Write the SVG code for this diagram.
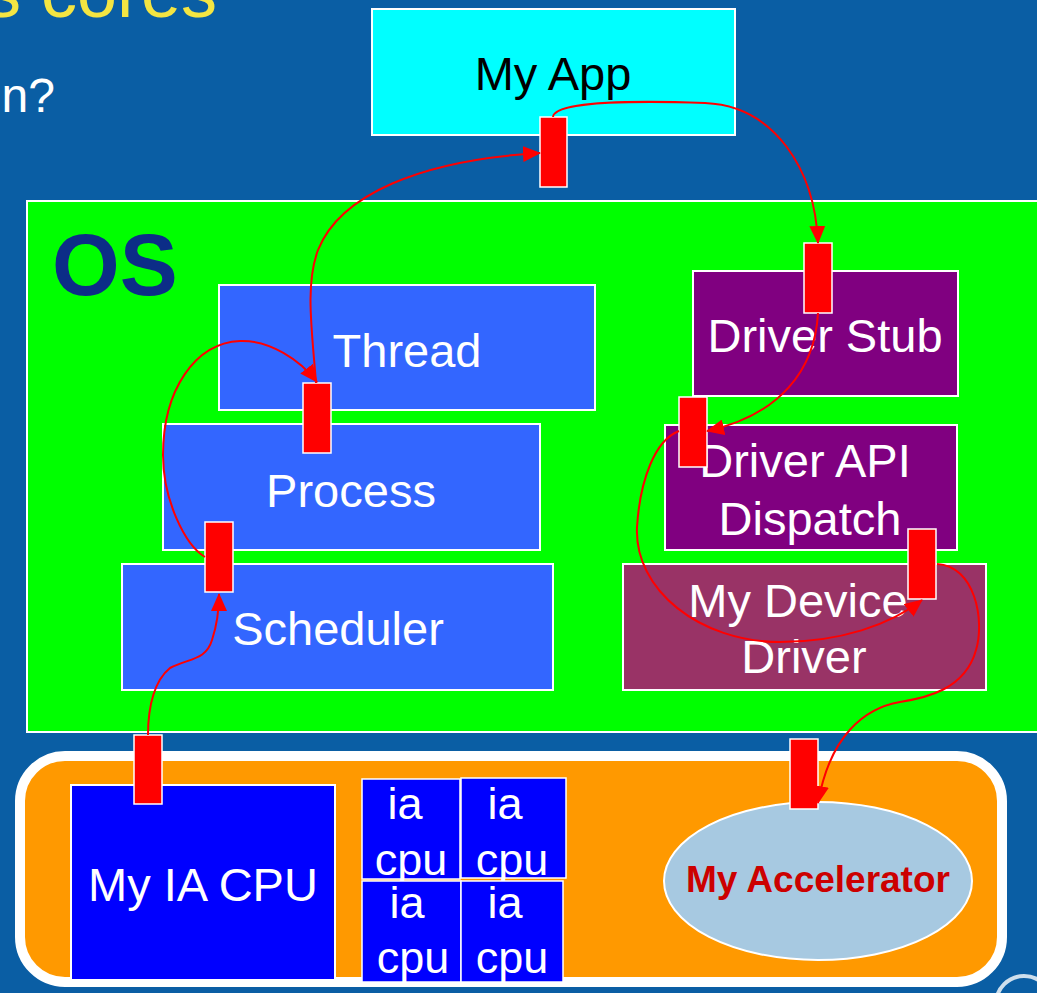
<svg xmlns="http://www.w3.org/2000/svg" width="1037" height="993" viewBox="0 0 1037 993">
  <defs>
    <marker id="arrow" markerUnits="userSpaceOnUse" markerWidth="18" markerHeight="16" viewBox="0 0 18 16" refX="17" refY="8" orient="auto">
      <path d="M0,0 L18,8 L0,16 z" fill="#ff0000"/>
    </marker>
  </defs>
  <style>
    text { font-family: "Liberation Sans", Arial, sans-serif; }
    .box { stroke: #ffffff; stroke-width: 2; }
    .lbl { fill: #ffffff; font-size: 47px; text-anchor: middle; }
    .port { fill: #ff0000; stroke: #ffffff; stroke-width: 1.5; }
    .cpu { fill: #0000ff; stroke: #ffffff; stroke-width: 1.5; }
    .cpu-lbl { fill: #ffffff; font-size: 45px; text-anchor: middle; }
    .link { fill: none; stroke: #ff0000; stroke-width: 2; marker-end: url(#arrow); }
    .link-plain { fill: none; stroke: #ff0000; stroke-width: 2; }
  </style>

  <!-- slide background -->
  <rect x="0" y="0" width="1037" height="993" fill="#0a5ea4"/>
  <text x="217" y="17" font-size="72" fill="#f4e542" text-anchor="end">s cores</text>
  <text x="55" y="112" font-size="48" fill="#ffffff" text-anchor="end">n?</text>
  <circle cx="1024" cy="1004" r="28" fill="none" stroke="#ffffff" stroke-width="4" opacity="0.8"/>

  <!-- application -->
  <g id="my-app">
    <rect class="box" x="372" y="9" width="363" height="126" fill="#00ffff"/>
    <text x="553" y="90" font-size="47" fill="#000000" text-anchor="middle">My App</text>
  </g>

  <!-- operating system layer -->
  <g id="os">
    <rect class="box" x="27" y="201" width="1025" height="531" fill="#00ff00"/>
    <text x="52" y="295" font-size="87" font-weight="bold" fill="#0c2d87">OS</text>
  </g>

  <g id="thread">
    <rect class="box" x="219" y="285" width="376" height="125" fill="#3366ff"/>
    <text class="lbl" x="407" y="367">Thread</text>
  </g>
  <g id="process">
    <rect class="box" x="163" y="424" width="377" height="126" fill="#3366ff"/>
    <text class="lbl" x="351" y="507">Process</text>
  </g>
  <g id="scheduler">
    <rect class="box" x="122" y="564" width="431" height="126" fill="#3366ff"/>
    <text class="lbl" x="338" y="645">Scheduler</text>
  </g>

  <g id="driver-stub">
    <rect class="box" x="693" y="271" width="265" height="125" fill="#800080"/>
    <text class="lbl" x="825" y="352">Driver Stub</text>
  </g>
  <g id="driver-api-dispatch">
    <rect class="box" x="665" y="425" width="292" height="125" fill="#800080"/>
    <text class="lbl" x="805" y="477">Driver API</text>
    <text class="lbl" x="810" y="535">Dispatch</text>
  </g>
  <g id="device-driver">
    <rect class="box" x="623" y="564" width="363" height="126" fill="#993366"/>
    <text class="lbl" x="798" y="617">My Device</text>
    <text class="lbl" x="804" y="673">Driver</text>
  </g>

  <!-- hardware layer -->
  <g id="hardware">
    <rect x="20" y="756" width="982" height="226" rx="45" ry="45" fill="#ff9900" stroke="#ffffff" stroke-width="10"/>
  </g>
  <g id="ia-cpu">
    <rect class="box" x="71" y="785" width="264" height="195" fill="#0000ff"/>
    <text class="lbl" x="203" y="901">My IA CPU</text>
  </g>
  <g id="core-1">
    <rect class="cpu" x="362" y="779" width="98" height="100"/>
    <text class="cpu-lbl" x="405" y="819">ia</text>
    <text class="cpu-lbl" x="411" y="875">cpu</text>
  </g>
  <g id="core-2">
    <rect class="cpu" x="461" y="778" width="105" height="100"/>
    <text class="cpu-lbl" x="505" y="819">ia</text>
    <text class="cpu-lbl" x="512" y="875">cpu</text>
  </g>
  <g id="core-3">
    <rect class="cpu" x="362" y="881" width="99" height="101"/>
    <text class="cpu-lbl" x="407" y="918">ia</text>
    <text class="cpu-lbl" x="413" y="973">cpu</text>
  </g>
  <g id="core-4">
    <rect class="cpu" x="461" y="881" width="102" height="101"/>
    <text class="cpu-lbl" x="505" y="918">ia</text>
    <text class="cpu-lbl" x="512" y="973">cpu</text>
  </g>
  <g id="accelerator">
    <ellipse cx="818" cy="881" rx="154" ry="79" fill="#a7c9e1" stroke="#ffffff" stroke-width="2"/>
    <text x="818" y="892" font-size="37" font-weight="bold" fill="#cc0000" text-anchor="middle">My Accelerator</text>
  </g>

  <!-- interface ports -->
  <g id="ports">
    <rect class="port" x="540" y="117" width="27" height="70"/>
    <rect class="port" x="804" y="243" width="28" height="70"/>
    <rect class="port" x="679" y="397" width="28" height="70"/>
    <rect class="port" x="908" y="529" width="28" height="70"/>
    <rect class="port" x="303" y="383" width="28" height="70"/>
    <rect class="port" x="205" y="522" width="28" height="70"/>
    <rect class="port" x="134" y="735" width="28" height="69"/>
    <rect class="port" x="790" y="739" width="28" height="70"/>
  </g>

  <!-- call path -->
  <g id="connectors">
    <path class="link" d="M148,735 C148,705 155,680 170,668 C190,658 206,660 212,640 C217,625 219,612 219,594"/>
    <path class="link" d="M205,557 C185,545 163,500 163,455 C163,390 195,343 240,341 C270,340 300,360 317,382"/>
    <path class="link" d="M316,383 C312,330 305,285 318,250 C340,195 420,160 540,153"/>
    <path class="link" d="M553,117 C555,100 650,101 705,103 C775,106 815,170 818,243"/>
    <path class="link" d="M818,313 C815,370 780,415 707,431"/>
    <path class="link" d="M679,431 C655,440 640,480 637,527 C634,590 700,642 780,642 C840,642 890,625 922,600"/>
    <path class="link" d="M937,564 C975,566 985,620 976,650 C965,690 925,698 900,702 C865,708 830,735 818,803"/>
  </g>
</svg>
